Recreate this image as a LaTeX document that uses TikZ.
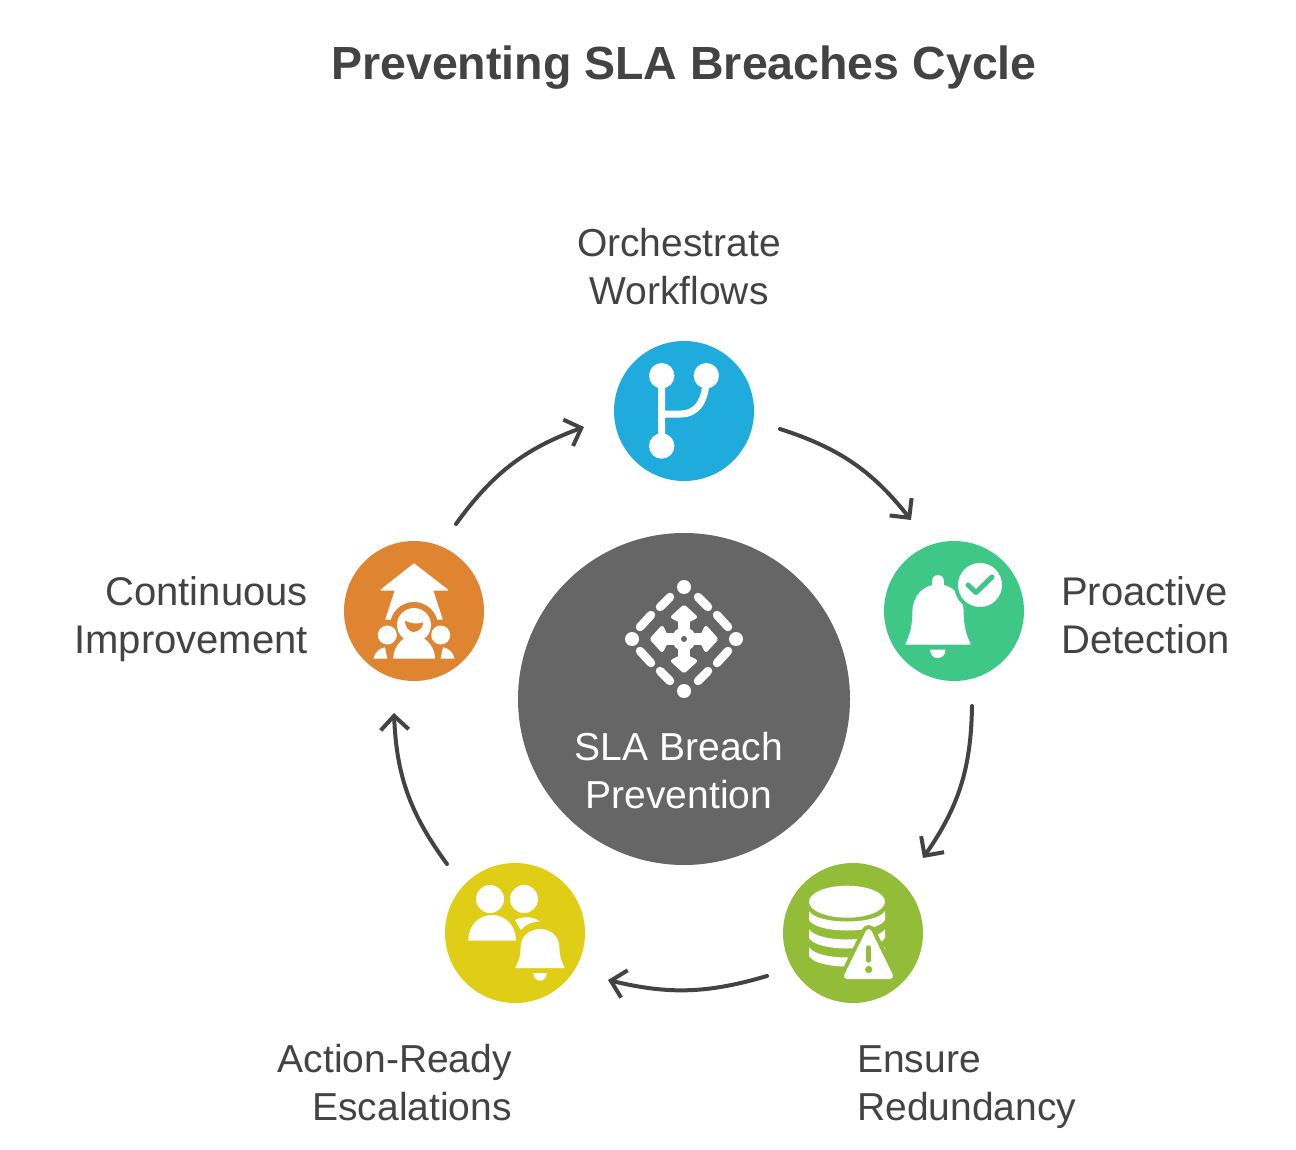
\documentclass[tikz,border=0pt]{standalone}
\usepackage{fontspec}
\setmainfont{Liberation Sans}
\usetikzlibrary{arrows.meta}
\definecolor{inkgray}{HTML}{434343}
\definecolor{hubgray}{HTML}{666666}
\definecolor{flowblue}{HTML}{1FACDC}
\definecolor{alertgreen}{HTML}{3EC787}
\definecolor{dblime}{HTML}{93BD38}
\definecolor{escyellow}{HTML}{E0CD15}
\definecolor{imporange}{HTML}{DF8430}
\tikzset{
  stage/.style={circle,minimum size=140pt,inner sep=0pt},
  label text/.style={text=inkgray,font=\fontsize{39}{48}\selectfont,inner sep=0pt},
  wide text/.style={label text,font=\fontsize{40}{48}\selectfont},
  flow/.style={draw=inkgray,line width=4pt,line cap=round,-{Straight Barb[length=14pt,width=28pt,line width=4pt]}},
  ink/.style={fill=white,draw=white,line width=1.2pt,line join=round},
}
\newcommand{\bellbody}{(-32,0) .. controls (-27,-10) and (-25,-20) .. (-25,-32) .. controls (-25,-48) and (-14,-59) .. (0,-59) .. controls (14,-59) and (25,-48) .. (25,-32) .. controls (25,-20) and (27,-10) .. (32,0) -- cycle}
\begin{document}
\begin{tikzpicture}[x=1pt,y=-1pt]
\useasboundingbox (0,0) rectangle (1296,1150);
\node (title) at (684,68) {\fontsize{46.5}{56}\selectfont\bfseries\textcolor{inkgray}{Preventing SLA Breaches Cycle}};
% circles
\node[stage,fill=hubgray,minimum size=332pt] (hub) at (684,699) {};
\node[stage,fill=flowblue] (orchestrate) at (684,411) {};
\node[stage,fill=alertgreen] (proactive) at (954,611) {};
\node[stage,fill=dblime] (redundancy) at (853,933) {};
\node[stage,fill=escyellow] (escalate) at (515,933) {};
\node[stage,fill=imporange] (improve) at (414,611) {};
% labels
\node[label text,align=center] (orchestrate text) at (679,267) {Orchestrate\\Workflows};
\node[wide text,align=left,anchor=west] (proactive text) at (1061,615) {Proactive\\Detection};
\node[label text,align=left,anchor=west] (redundancy text) at (857,1087) {Ensure\\Redundancy};
\node[label text,align=right,anchor=east] (escalate text) at (512,1083) {Action-Ready\\Escalations};
\node[wide text,align=right,anchor=east] (improve text) at (308,619) {Continuous\\Improvement};
\node[label text,align=center,text=white] (hub text) at (679,771) {SLA Breach\\Prevention};
% arrows
\coordinate (a1) at (780,429); \coordinate (a2) at (911,520);
\coordinate (b1) at (972,706); \coordinate (b2) at (923,858);
\coordinate (c1) at (767,976); \coordinate (c2) at (608,980);
\coordinate (d1) at (447,864); \coordinate (d2) at (394,713);
\coordinate (e1) at (456,524); \coordinate (e2) at (584,427);
\draw[flow] (a1) to[bend left=17] (a2);
\draw[flow] (b1) to[bend left=17] (b2);
\draw[flow] (c1) to[bend left=15] (c2);
\draw[flow] (d1) to[bend left=17] (d2);
\draw[flow] (e1) to[bend left=17] (e2);
% hub icon
\foreach \sx/\sy in {1/1,-1/1,1/-1,-1/-1}{
  \begin{scope}[shift={(684,639)},xscale=\sx,yscale=\sy]
  \draw[white,line width=8.5pt,line cap=round] (14,-42) -- (24,-32) (33,-24) -- (44,-12);
  \end{scope}
}
\foreach \rot in {0,90,180,270}{
  \begin{scope}[shift={(684,639)},rotate=\rot]
  \fill[white] (0,-52) circle (7pt);
  \fill[white] (-6,0) rectangle (6,-22);
  \draw[ink,line width=4pt] (0,-32) -- (11,-22) -- (5,-19) -- (-5,-19) -- (-11,-22) -- cycle;
  \end{scope}
}
\fill[white] (684,639) circle (12pt);
\fill[hubgray] (684,639) circle (3pt);
% orchestrate icon
\fill[white] (661.7,375.7) circle (12.7pt) (706.3,375.7) circle (12.7pt) (661.7,446) circle (12.7pt);
\draw[white,line width=7pt] (661.7,375.7) -- (661.7,446) (661.7,414) -- (681,414) .. controls (696,414) and (706.3,402) .. (706.3,376);
% bell icon
\begin{scope}[shift={(938,644)}]
\draw[ink] \bellbody;
\end{scope}
\draw[white,line width=12pt,line cap=round] (938,581) -- (938,590);
\fill[white] (930,649.5) -- (945.5,649.5) .. controls (945.5,655) and (942,658) .. (937.8,658) .. controls (933.5,658) and (930,655) .. (930,649.5) -- cycle;
\fill[alertgreen] (980,585) circle (26pt);
\fill[white] (980,585) circle (22pt);
\draw[alertgreen,line width=5pt,line cap=round,line join=round] (968,585) -- (976,592.5) -- (992,577);
% database icon
\fill[white] (847,901.7) ellipse (38pt and 16pt);
\foreach \yb in {911,929,947}{
  \fill[white] (809,\yb) .. controls (817,\yb+14) and (877,\yb+14) .. (885,\yb) -- (885,\yb+9) .. controls (877,\yb+23) and (817,\yb+23) .. (809,\yb+9) -- cycle;
}
\draw[dblime,fill=dblime,line width=14pt,line join=round] (868.7,932) -- (847,976) -- (890,976) -- cycle;
\draw[ink,line width=6pt] (868.7,932) -- (847,976) -- (890,976) -- cycle;
\draw[dblime,line width=5.5pt,line cap=round] (868.7,948) -- (868.7,960);
\fill[dblime] (868.7,969.5) circle (3.6pt);
% escalation icon
\fill[white] (490,899) circle (14pt) (524,899) circle (14pt);
\fill[white] (468.3,940.7) .. controls (468.3,925) and (479,915) .. (492.2,915) .. controls (505,915) and (516,925) .. (516,940.7) -- cycle;
\fill[white] (515,920) .. controls (523,916) and (533,916) .. (540,921.7) .. controls (532,921) and (525,925) .. (520.7,930) -- cycle;
\begin{scope}[shift={(540,967.5)},xscale=.75,yscale=.64]
\draw[ink] \bellbody;
\end{scope}
\fill[white] (533.3,973) -- (546.7,973) .. controls (546.7,978) and (543,980.7) .. (540,980.7) .. controls (537,980.7) and (533.3,978) .. (533.3,973) -- cycle;
% improvement icon
\draw[ink] (414,564) -- (381,590) -- (395.5,590) -- (386,619) -- (442,619) -- (432.5,590) -- (447.5,590) -- cycle;
\fill[imporange] (414,626) circle (24pt);
\fill[imporange] (380,622) rectangle (448,660);
\fill[white] (414,625) circle (17pt);
\fill[white] (393.3,658.5) .. controls (393.3,648) and (400,640) .. (408,636) -- (420,636) .. controls (428,640) and (435,648) .. (435,658.5) -- cycle;
\fill[imporange] (405,620.7) .. controls (411,624) and (417,624) .. (423.3,622.5) .. controls (423,628) and (418,632) .. (413,632) .. controls (408,631) and (405,626) .. (405,620.7) -- cycle;
\fill[white] (387.3,635) circle (9.5pt) (440.7,635) circle (9.5pt);
\fill[white] (373.3,658.5) .. controls (375,652) and (380,648) .. (385,647.3) -- (387.3,658.5) -- cycle;
\fill[white] (454.7,658.5) .. controls (453,652) and (448,648) .. (443,647.3) -- (440.7,658.5) -- cycle;
\end{tikzpicture}
\end{document}
